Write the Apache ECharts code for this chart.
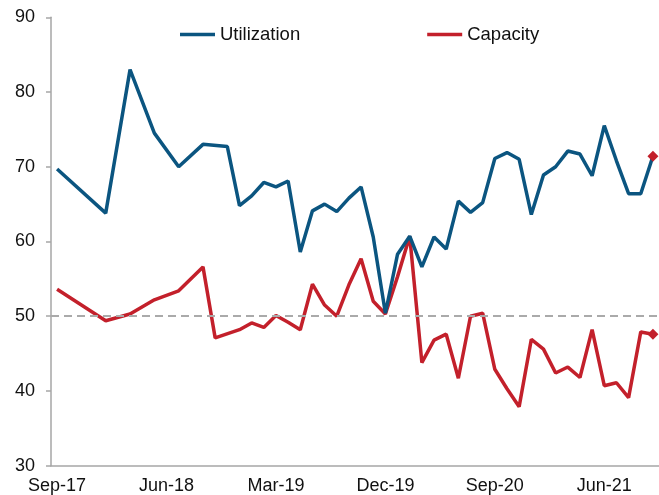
<!DOCTYPE html>
<html>
<head>
<meta charset="utf-8">
<script src="https://cdn.jsdelivr.net/npm/echarts@6/dist/echarts.min.js"></script>
<style>
  html, body { margin: 0; padding: 0; background: #fff; }
  #main { width: 659px; height: 495px; }
</style>
</head>
<body>
<div id="main"></div>
<script type="text/javascript">
  // monthly categories, Sep-17 .. Oct-21
  var months = [
    'Sep-17','Oct-17','Nov-17','Dec-17',
    'Jan-18','Feb-18','Mar-18','Apr-18','May-18','Jun-18','Jul-18','Aug-18','Sep-18','Oct-18','Nov-18','Dec-18',
    'Jan-19','Feb-19','Mar-19','Apr-19','May-19','Jun-19','Jul-19','Aug-19','Sep-19','Oct-19','Nov-19','Dec-19',
    'Jan-20','Feb-20','Mar-20','Apr-20','May-20','Jun-20','Jul-20','Aug-20','Sep-20','Oct-20','Nov-20','Dec-20',
    'Jan-21','Feb-21','Mar-21','Apr-21','May-21','Jun-21','Jul-21','Aug-21','Sep-21','Oct-21'
  ];

  var utilization = [
    69.7, null, null, null, 63.8, null, 83.0, null, 74.5, null, 70.0, null, 73.0, null, 72.7, 64.8,
    66.1, 67.9, 67.3, 68.1, 58.6, 64.1, 65.0, 64.0, 65.8, 67.3, 60.6, 50.4,
    58.3, 60.7, 56.6, 60.6, 59.0, 65.4, 63.9, 65.2, 71.1, 71.9, 71.0, 63.6,
    68.9, 70.0, 72.1, 71.7, 68.8, 75.5, 70.8, 66.4, 66.4, 71.4
  ];

  var capacity = [
    53.6, null, null, null, 49.4, null, 50.3, null, 52.2, null, 53.4, null, 56.6, 47.1, null, 48.2,
    49.1, 48.5, 50.1, 49.2, 48.2, 54.3, 51.5, 50.0, 54.2, 57.7, 52.0, 50.3,
    55.3, 60.7, 43.8, 46.8, 47.6, 41.7, 50.0, 50.4, 42.9, 40.3, 37.9, 46.9,
    45.6, 42.4, 43.2, 41.8, 48.2, 40.7, 41.1, 39.1, 47.9, 47.6
  ];

  var yTicks = [30, 40, 50, 60, 70, 80, 90];
  var refLevel = 50;

  var blue = '#0b5580';
  var red = '#c3202b';
  var axisGray = '#a6a6a6';
  var font = 'Liberation Sans, Arial, sans-serif';

  // last point of each series gets a red diamond
  function withEndMarker(arr) {
    var out = arr.slice();
    var last = out.length - 1;
    out[last] = {
      value: arr[last],
      symbol: 'diamond',
      symbolSize: 11,
      itemStyle: { color: red }
    };
    return out;
  }

  var chart = echarts.init(document.getElementById('main'));
  chart.setOption({
    animation: false,
    textStyle: { fontFamily: font },
    grid: {
      left: 51,
      right: -3,
      top: 17.3,
      bottom: 29.3,
      containLabel: false
    },
    legend: {
      top: 20,
      left: 175,
      itemGap: 127,
      itemWidth: 35,
      itemHeight: 3.5,
      icon: 'rect',
      textStyle: { fontSize: 18.5, color: '#111', fontFamily: font },
      data: ['Utilization', 'Capacity']
    },
    xAxis: {
      type: 'category',
      boundaryGap: true,
      data: months,
      axisLine: { lineStyle: { color: axisGray, width: 1.5 } },
      axisTick: { interval: 8, length: 5, lineStyle: { color: axisGray, width: 1.5 } },
      axisLabel: { interval: 8, margin: 11, fontSize: 18, color: '#111' },
      splitLine: { show: false }
    },
    yAxis: {
      type: 'value',
      min: yTicks[0],
      max: yTicks[yTicks.length - 1],
      interval: 10,
      axisLine: { show: true, lineStyle: { color: axisGray, width: 1.5 } },
      axisTick: { show: true, length: 5, lineStyle: { color: axisGray, width: 1.5 } },
      axisLabel: { margin: 16, fontSize: 18, color: '#111' },
      splitLine: { show: false }
    },
    series: [
      {
        name: 'Utilization',
        type: 'line',
        z: 3,
        data: withEndMarker(utilization),
        connectNulls: true,
        symbol: 'none',
        lineStyle: { color: blue, width: 3.5 },
        itemStyle: { color: blue }
      },
      {
        name: 'Capacity',
        type: 'line',
        z: 2,
        data: withEndMarker(capacity),
        connectNulls: true,
        symbol: 'none',
        lineStyle: { color: red, width: 3.5 },
        itemStyle: { color: red },
        markLine: {
          silent: true,
          symbol: 'none',
          label: { show: false },
          lineStyle: { color: '#aaaaaa', type: [8, 5], width: 2 },
          data: [{ yAxis: refLevel }]
        }
      }
    ]
  });
</script>
</body>
</html>
